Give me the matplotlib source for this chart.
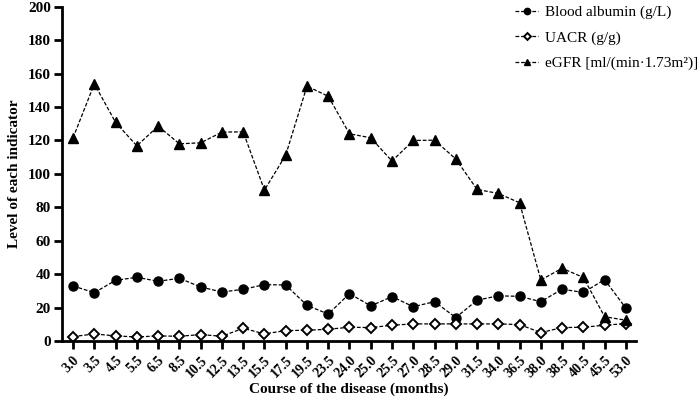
"""Course of disease vs. blood albumin, UACR and eGFR (dashed line chart)."""

import matplotlib

matplotlib.use("Agg")
import matplotlib.pyplot as plt

months = ["3.0", "3.5", "4.5", "5.5", "6.5", "8.5", "10.5", "12.5", "13.5",
          "15.5", "17.5", "19.5", "23.5", "24.0", "25.0", "25.5", "27.0",
          "28.5", "29.0", "31.5", "34.0", "36.5", "38.0", "38.5", "40.5",
          "45.5", "53.0"]

albumin = [32.9, 28.9, 36.3, 38.1, 35.7, 37.5, 32.3, 29.3, 30.9, 33.7, 33.5,
           21.3, 16.1, 28.3, 21.0, 26.5, 20.5, 23.5, 14.0, 24.4, 27.0, 26.7,
           23.5, 31.0, 29.0, 36.7, 19.6]

uacr = [2.6, 4.2, 3.0, 2.4, 3.0, 2.8, 3.8, 2.8, 7.6, 4.2, 6.2, 6.4, 7.0, 8.2,
        8.0, 9.4, 10.2, 10.2, 10.2, 10.2, 10.2, 9.8, 5.0, 8.0, 8.2, 9.4, 10.4]

egfr = [121.6, 153.9, 130.8, 116.8, 128.6, 118.0, 118.6, 125.0, 125.2, 90.3,
        111.2, 152.5, 146.5, 124.0, 121.6, 107.7, 120.0, 120.2, 108.9, 90.7,
        88.3, 82.7, 36.5, 43.5, 38.0, 14.5, 12.4]

plt.rcParams["font.family"] = ["Liberation Serif", "DejaVu Serif"]

fig = plt.figure(figsize=(7.0, 4.03), dpi=100)
ax = fig.add_axes([0.0886, 0.154, 0.8204, 0.829])

x = list(range(len(months)))
line_kw = dict(color="black", linestyle=(0, (3, 1.5)), linewidth=0.9)
ax.plot(x, albumin, marker="o", markersize=6.5, markerfacecolor="black",
        markeredgecolor="black", label="Blood albumin (g/L)", **line_kw)
ax.plot(x, uacr, marker="D", markersize=5, markerfacecolor="white",
        markeredgecolor="black", markeredgewidth=1.4, label="UACR (g/g)",
        **line_kw)
ax.plot(x, egfr, marker="^", markersize=6.5, markerfacecolor="black",
        markeredgecolor="black", label="eGFR [ml/(min\u00b71.73m\u00b2)]",
        **line_kw)

ax.set_xlim(-0.52, len(months) - 1 + 0.49)
ax.set_ylim(0, 200)
ax.set_yticks(range(0, 201, 20))
ax.set_xticks(x)
ax.set_xticklabels(months, rotation=45, ha="right", rotation_mode="anchor",
                   fontweight="bold", fontsize=10)
for lab in ax.get_yticklabels():
    lab.set_fontweight("bold")
    lab.set_fontsize(11)

for side in ("top", "right"):
    ax.spines[side].set_visible(False)
for side in ("left", "bottom"):
    ax.spines[side].set_linewidth(2)
ax.tick_params(axis="both", direction="out", length=6, width=2, pad=2)
ax.tick_params(axis="x", pad=3)

ax.set_xlabel("Course of the disease (months)", fontweight="bold",
              fontsize=11, labelpad=2)
ax.set_ylabel("Level of each indicator", fontweight="bold", fontsize=11,
              labelpad=5)

ax.legend(loc="upper right", bbox_to_anchor=(1.132, 1.045), frameon=False,
          fontsize=11, handlelength=1.5, labelspacing=0.75,
          handletextpad=0.45, markerscale=0.7)

fig.savefig("out.png", dpi=100)
